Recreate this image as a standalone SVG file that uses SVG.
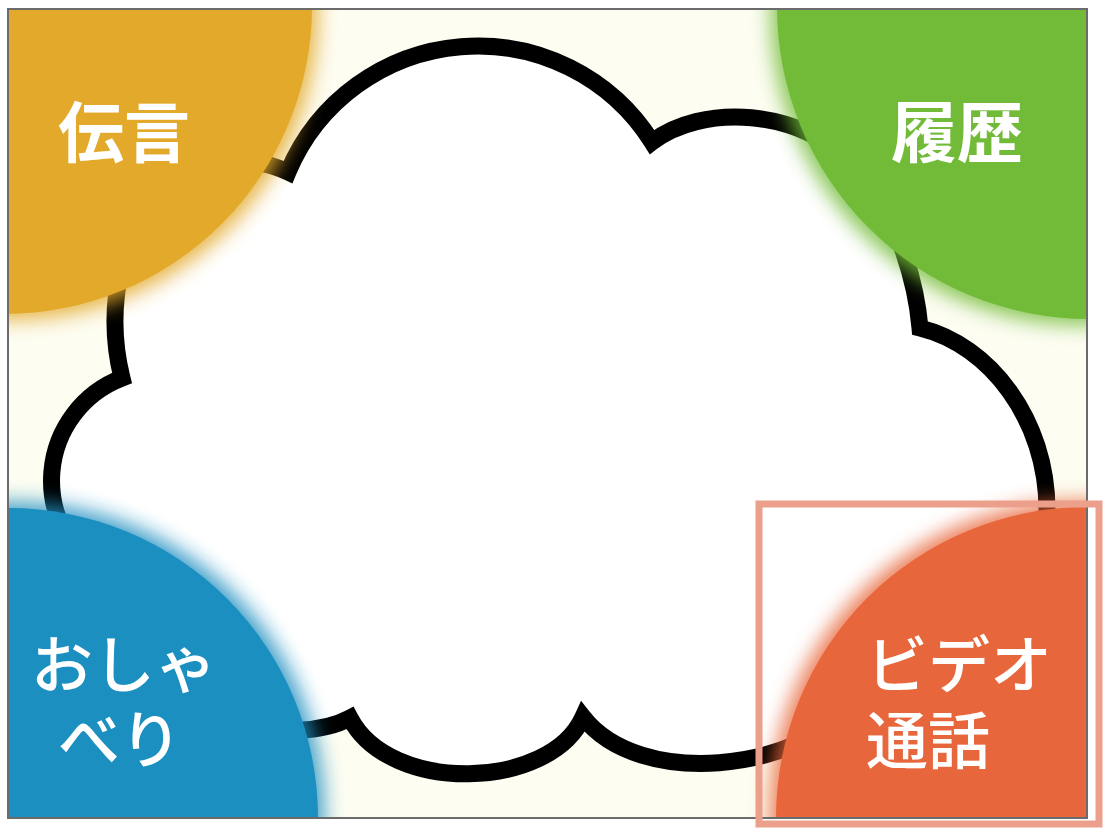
<svg xmlns="http://www.w3.org/2000/svg" width="1103" height="831" viewBox="0 0 1103 831">
  <style>
    .lbl { font-family: "Noto Sans CJK JP", "Noto Sans", sans-serif; fill: #ffffff; font-size: 62px; }
    .bold { font-weight: 700; font-size: 66px; }
    .med { font-weight: 500; }
    .cloud { fill: #ffffff; stroke: #000000; stroke-width: 17; stroke-linejoin: miter; stroke-miterlimit: 8; }
  </style>
  <defs>
    <clipPath id="frameClip">
      <rect x="8" y="9" width="1079" height="809"/>
    </clipPath>
    <filter id="glow" x="-20%" y="-20%" width="140%" height="140%">
      <feMorphology in="SourceGraphic" operator="dilate" radius="6" result="d"/>
      <feGaussianBlur in="d" stdDeviation="10" result="b"/>
      <feComponentTransfer in="b" result="b2">
        <feFuncA type="linear" slope="0.85"/>
      </feComponentTransfer>
      <feMerge>
        <feMergeNode in="b2"/>
        <feMergeNode in="SourceGraphic"/>
      </feMerge>
    </filter>
  </defs>

  <!-- background frame -->
  <rect x="8" y="9" width="1079" height="809" fill="#fdfdf2"/>

  <!-- cloud -->
  <g id="cloud">
    <path class="cloud" d="M288,172 A206,206 0 0 1 652,142 C700,105 800,105 860,170 C890,205 915,270 920,328 C990,345 1047,420 1047,510 C1047,600 960,690 850,705 C800,770 640,790 583,717 C550,790 390,795 350,718 C300,745 160,740 105,575 A110,110 0 0 1 122,378 C110,330 110,260 150,210 C190,160 240,150 288,172 Z"/>
  </g>

  <g clip-path="url(#frameClip)">
    <g id="node-dengon">
      <circle cx="4" cy="6" r="308" fill="#e3a929" filter="url(#glow)"/>
    </g>
    <g id="node-rireki">
      <circle cx="1089" cy="7" r="312" fill="#72bb39" filter="url(#glow)"/>
    </g>
    <g id="node-oshaberi">
      <circle cx="8" cy="818" r="310" fill="#1f8fc1" filter="url(#glow)"/>
    </g>
    <g id="node-video">
      <circle cx="1087" cy="818" r="311" fill="#e8663a" filter="url(#glow)"/>
    </g>
  </g>

  <g id="labels">
    <text class="lbl bold" x="124" y="157" text-anchor="middle">伝言</text>
    <text class="lbl bold" x="957" y="157" text-anchor="middle">履歴</text>
    <text class="lbl med" text-anchor="middle"><tspan x="124" y="688">おしゃ</tspan><tspan x="120" y="763">べり</tspan></text>
    <text class="lbl med"><tspan x="866" y="688">ビデオ</tspan><tspan x="866" y="764">通話</tspan></text>
  </g>

  <!-- frame border -->
  <rect x="8" y="9" width="1079" height="809" fill="none" stroke="#6b6b6b" stroke-width="2"/>

  <!-- highlight -->
  <rect id="highlight" x="759" y="504" width="340" height="320" fill="none" stroke="#eca08b" stroke-width="7"/>
</svg>
